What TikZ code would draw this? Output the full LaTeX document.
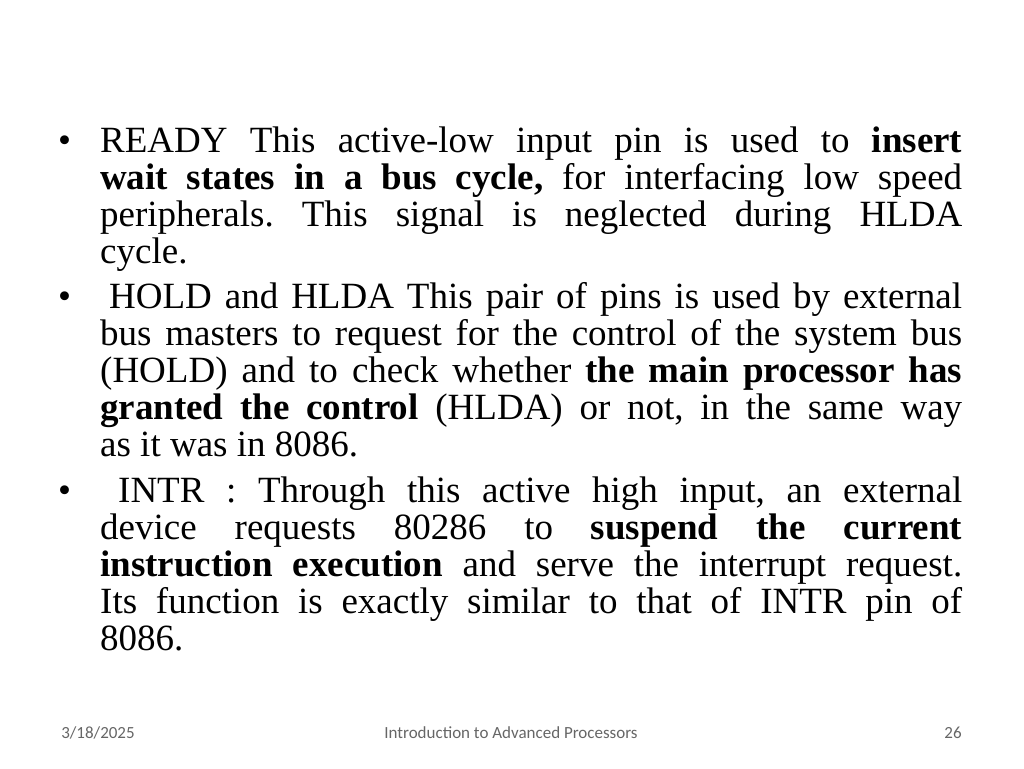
\documentclass[tikz,border=0pt]{standalone}
\usepackage{fontspec}
\setmainfont{Liberation Serif}
\newfontfamily\footfont{Carlito}
\begin{document}
\frenchspacing
\begin{tikzpicture}[x=1pt,y=1pt,
  para/.style={anchor=base west,inner sep=0pt,text width=862pt,align=justify,font=\fontsize{37}{37}\selectfont\frenchspacing},
  bul/.style={anchor=base west,inner sep=0pt,font=\fontsize{37}{37}\selectfont},
  foot/.style={anchor=base,inner sep=0pt,font=\footfont\fontsize{17}{19}\selectfont,text=black!60}]
\useasboundingbox[fill=white] (0,0) rectangle (1024,-768);
\node[bul] (b1) at (58,-152) {•};
\node[bul] (b2) at (58,-308) {•};
\node[bul] (b3) at (58,-502) {•};
\node[para] (p1) at (100,-152) {READY This active-low input pin is used to \textbf{insert}\linebreak \textbf{wait states in a bus cycle,} for interfacing low speed\linebreak peripherals. This signal is neglected during HLDA\linebreak cycle.};
\node[para] (p2) at (100,-308) {\hspace*{9pt}HOLD and HLDA This pair of pins is used by external\linebreak bus masters to request for the control of the system bus\linebreak (HOLD) and to check whether \textbf{the main processor has}\linebreak \textbf{granted the control} (HLDA) or not, in the same way\linebreak as it was in 8086.};
\node[para] (p3) at (100,-502) {\hspace*{18pt}INTR : Through this active high input, an external\linebreak device requests 80286 to \textbf{suspend the current}\linebreak \textbf{instruction execution} and serve the interrupt request.\linebreak Its function is exactly similar to that of INTR pin of\linebreak 8086.};
\node[foot] (date) at (98,-738) {3/18/2025};
\node[foot] (title) at (511,-738) {Introduction to Advanced Processors};
\node[foot] (page) at (953,-738) {26};
\end{tikzpicture}
\end{document}
